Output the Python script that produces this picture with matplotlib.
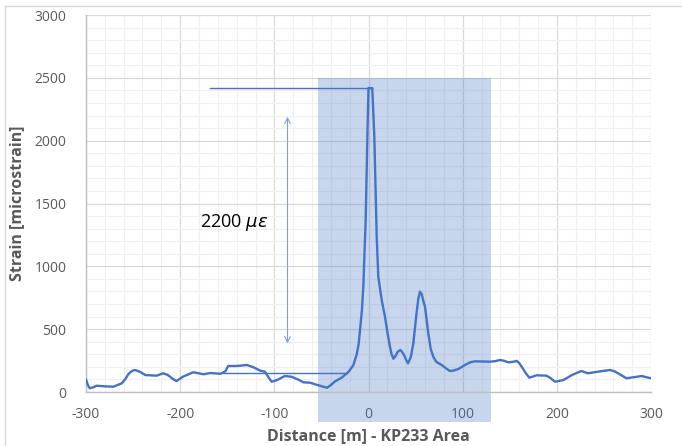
import matplotlib
matplotlib.use("Agg")
import matplotlib.pyplot as plt
from matplotlib.patches import Rectangle
from matplotlib.lines import Line2D

# ---- data ----
distance = [-300, -298, -296, -292, -289, -280, -271, -262, -258, -255, -251, -248, -243, -237,
            -225, -218, -213, -208, -204, -197, -186, -175, -168, -157, -152, -149, -140, -129,
            -122, -115, -110, -106, -103, -97, -89, -82, -75, -69, -62, -53, -47, -44, -40, -36,
            -28, -21, -16, -12.5, -10.5, -9, -7, -5.5, -3, -1.2, 0, 4, 6.2, 8.7, 10.4, 14, 17.5,
            20, 22.8, 24.5, 26.5, 29, 31, 34, 36, 38, 40, 42, 45, 47.6, 51, 53, 54.7, 56.5, 58,
            60, 63.5, 66, 68.8, 72, 77.7, 82, 86.5, 90, 95.4, 104.3, 108, 113, 120, 129, 135,
            139.6, 144, 148.5, 154, 157.4, 160, 162.7, 167, 170.8, 178.6, 189, 193, 198, 207,
            216, 226, 233, 244, 256.5, 261, 265, 274, 281, 290, 300]
strain = [100, 55, 30, 38, 50, 45, 42, 69, 105, 143, 168, 175, 162, 135,
          130, 149, 135, 105, 87, 122, 157, 141, 151, 145, 165, 207, 207, 215,
          196, 170, 162, 115, 82, 95, 127, 122, 100, 77, 74, 53, 40, 34, 55, 82,
          117, 162, 215, 300, 380, 493, 650, 838, 1368, 2031, 2418, 2418, 2031, 1236, 917, 732, 599,
          480, 360, 300, 265, 290, 320, 334, 315, 290, 255, 228, 280, 387, 626, 745, 798, 780, 730,
          679, 467, 345, 281, 240, 215, 190, 167, 170, 183, 223, 236, 244, 243, 241, 246,
          255, 248, 236, 241, 247, 230, 201, 150, 114, 133, 130, 112, 82, 95,
          135, 167, 149, 162, 175, 165, 149, 109, 117, 127, 109]

xticks = [-300, -200, -100, 0, 100, 200, 300]
yticks = [0, 500, 1000, 1500, 2000, 2500, 3000]

shade_x = (-53.6, 130.0)
shade_y = (-236.0, 2500.0)
top_line_y, top_line_x = 2418, (-168, 4)
base_line_y, base_line_x = 151, (-154.5, -23)
arrow_x, arrow_y = -86, (387, 2190)
label_text = r"2200 $\mu\varepsilon$"
label_pos = (-179, 1352)

blue = "#4472C4"
gray_txt = "#595959"

plt.rcParams['font.family'] = ['Open Sans', 'DejaVu Sans']
plt.rcParams['axes.unicode_minus'] = False

fig = plt.figure(figsize=(6.82, 4.46), dpi=100)
ax = fig.add_axes([86/682, 1-392/446, (651-86)/682, (392-15)/446])

ax.set_xlim(-300, 300)
ax.set_ylim(0, 3000)
ax.set_xticks(xticks)
ax.set_yticks(yticks)
ax.set_xticks(range(-300, 301, 20), minor=True)
ax.set_yticks(range(0, 3001, 100), minor=True)
ax.grid(which='major', color='#d9d9d9', linewidth=0.9)
ax.grid(which='minor', color='#f0f0f0', linewidth=0.9)
ax.set_axisbelow(True)
ax.tick_params(which='both', length=0, labelsize=10, labelcolor=gray_txt)
ax.tick_params(axis='y', pad=14)
ax.tick_params(axis='x', pad=11)
for s in ['top', 'right']:
    ax.spines[s].set_visible(False)
for s in ['left', 'bottom']:
    ax.spines[s].set_color('#bfbfbf')
    ax.spines[s].set_linewidth(1.0)

rect = Rectangle((shade_x[0], shade_y[0]), shade_x[1]-shade_x[0], shade_y[1]-shade_y[0],
                 facecolor=blue, alpha=0.29, edgecolor='none', clip_on=False, zorder=1)
ax.add_patch(rect)

ax.plot(top_line_x, [top_line_y]*2, color=blue, linewidth=1.0, zorder=3)
ax.plot(base_line_x, [base_line_y]*2, color=blue, linewidth=1.0, zorder=3)
ax.annotate('', xy=(arrow_x, arrow_y[0]), xytext=(arrow_x, arrow_y[1]),
            arrowprops=dict(arrowstyle='<->', color='#7f9fd8', lw=0.8,
                            mutation_scale=10, shrinkA=0, shrinkB=0), zorder=3)
ax.text(label_pos[0], label_pos[1], label_text, fontsize=13, color='black',
        ha='left', va='center', zorder=4)

ax.plot(distance, strain, color=blue, linewidth=1.7, solid_joinstyle='round',
        solid_capstyle='round', zorder=4)

ax.set_ylabel('Strain [microstrain]', fontsize=11.5, fontweight='bold',
              color=gray_txt, labelpad=7)
# x-axis title placed explicitly so it stays inside the figure
fig.text((86 + 651) / 2 / 682, 1 - 436 / 446, 'Distance [m] - KP233 Area',
         fontsize=11.5, fontweight='bold', color=gray_txt, ha='center', va='center')

# chart border (top and left visible)
fig.add_artist(Line2D([5/682, 1], [1-6/446, 1-6/446], color='#d9d9d9', lw=1.0))
fig.add_artist(Line2D([5/682, 5/682], [0, 1-6/446], color='#d9d9d9', lw=1.0))

fig.savefig('out.png', dpi=100)
